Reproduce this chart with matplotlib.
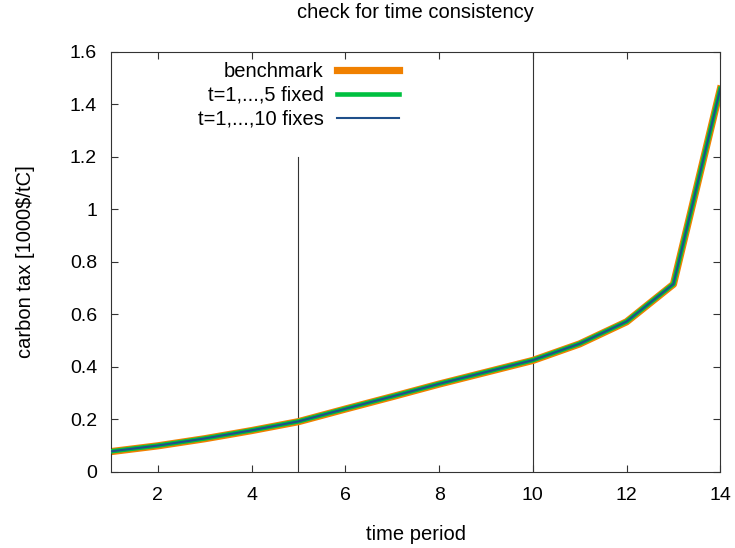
import numpy as np
import matplotlib
matplotlib.use('Agg')
import matplotlib.pyplot as plt
from matplotlib.ticker import FormatStrFormatter

plt.rcParams['font.family'] = ['Liberation Sans', 'DejaVu Sans']

# carbon tax path per time period
periods = [1, 2, 3, 4, 5, 6, 7, 8, 9, 10, 11, 12, 13, 14]
benchmark = [0.077, 0.099, 0.126, 0.157, 0.191, 0.239, 0.286, 0.334, 0.379, 0.424, 0.487, 0.571, 0.714, 1.457]
fixed_5 = [0.078, 0.100, 0.127, 0.158, 0.192, 0.240, 0.287, 0.335, 0.380, 0.425, 0.488, 0.572, 0.715, 1.458]
fixed_10 = [0.078, 0.100, 0.127, 0.158, 0.192, 0.240, 0.287, 0.335, 0.380, 0.425, 0.488, 0.572, 0.715, 1.458]

# markers for the fixed horizons: (x, top of line)
marker_x = [5, 10]
marker_top = [1.2, 1.6]

x_ticks = [2, 4, 6, 8, 10, 12, 14]
y_ticks = [0, 0.2, 0.4, 0.6, 0.8, 1.0, 1.2, 1.4, 1.6]


def make_plot():
    fig = plt.figure(figsize=(7.35, 5.48), dpi=100)
    ax = fig.add_axes([0.151, 0.139, 0.829, 0.767])

    for xv, top in zip(marker_x, marker_top):
        ax.plot([xv, xv], [0, top], color='#333333', lw=0.8, zorder=1)

    ax.plot(periods, benchmark, color='#f08000', lw=5.2, label='benchmark', zorder=2)
    ax.plot(periods, fixed_5, color='#00c040', lw=3.3, label='t=1,...,5 fixed', zorder=3)
    ax.plot(periods, fixed_10, color='#1f4f8a', lw=1.5, label='t=1,...,10 fixes', zorder=4)

    ax.set_xlim(1, 14)
    ax.set_ylim(0, 1.6)
    ax.set_xticks(x_ticks)
    ax.set_yticks(y_ticks)
    ax.yaxis.set_major_formatter(FormatStrFormatter('%g'))
    ax.tick_params(direction='in', length=5, width=0.8, top=True, right=True,
                   labelsize=14, colors='#333333', labelcolor='black')
    ax.tick_params(axis='x', pad=11)
    ax.tick_params(axis='y', pad=10)
    for sp in ax.spines.values():
        sp.set_color('#333333')
        sp.set_linewidth(0.8)

    # title placed in figure coords, close to the top edge like the original
    fig.text(0.151 + 0.829 / 2, 1 - 13 / 548, 'check for time consistency',
             fontsize=14.5, ha='center', va='center')
    ax.set_xlabel('time period', fontsize=14.5, labelpad=15)
    ax.set_ylabel('carbon tax [1000$/tC]', fontsize=14.5, labelpad=25)

    ax.legend(loc='upper right', bbox_to_anchor=(0.48, 0.985), frameon=False,
              markerfirst=False, fontsize=14.5, handlelength=3.1, handletextpad=0.65,
              labelspacing=0.25, borderpad=0.2, borderaxespad=0.0)
    return fig


fig = make_plot()
fig.savefig('out.png', dpi=100)
